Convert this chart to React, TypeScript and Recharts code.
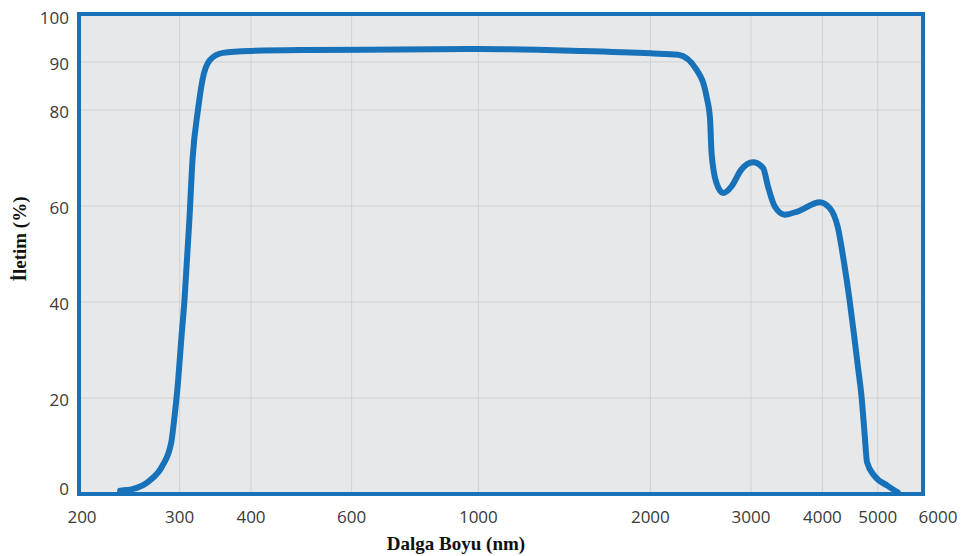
import React from "react";
import {
  LineChart,
  Line,
  XAxis,
  YAxis,
  CartesianGrid,
  ReferenceArea,
} from "recharts";

const wavelengths = [
  236, 248, 266, 280, 290, 294, 298, 302, 306, 312, 316, 323, 329, 339, 357,
  400, 500, 727, 1000, 1500, 2000, 2238, 2408, 2508, 2544, 2559, 2610, 2682,
  2774, 2886, 3026, 3150, 3212, 3302, 3437, 3626, 3957, 4118, 4258, 4374,
  4462, 4539, 4614, 4688, 4740, 4789, 4933, 5204, 5418,
];
const transmission = [
  0.7, 1.0, 2.8, 5.9, 10.7, 16.3, 23.2, 32.2, 40.5, 57, 69.6, 80, 86.3, 90.4,
  91.9, 92.3, 92.5, 92.6, 92.7, 92.3, 91.8, 91.5, 88.4, 82.8, 78, 71.1, 64.8,
  62.7, 64.1, 67.6, 69.1, 67.9, 64.1, 59.9, 58.2, 58.9, 60.8, 59.6, 55.5,
  47.5, 40.5, 33.6, 26.7, 19.8, 12.8, 6.6, 3.8, 1.7, 0.35,
];
const xTicks = [200, 300, 400, 600, 1000, 2000, 3000, 4000, 5000, 6000];
const yTicks = [0, 20, 40, 60, 80, 90, 100];
const xTitle = "Dalga Boyu (nm)";
const yTitle = "İletim (%)";

const data = wavelengths.map((w, i) => ({ w, t: transmission[i] }));

const BLUE = "#1872ba";
const TICK_FONT = "'Open Sans', 'Noto Sans', sans-serif";
const TITLE_FONT = "'Liberation Serif', 'DejaVu Serif', serif";

const XTick = (props: any) => {
  const { x, payload } = props;
  const v = payload.value;
  const dx = v === 6000 ? 15 : v === 200 ? 3 : 0;
  return (
    <text
      x={x + dx}
      y={523}
      textAnchor="middle"
      fontFamily={TICK_FONT}
      fontSize={17}
      fill="#3a3a3a"
    >
      {v}
    </text>
  );
};

const YTick = (props: any) => {
  const { y, payload } = props;
  const v = payload.value;
  const dy = v === 0 ? 1 : v === 100 ? 10 : 8;
  return (
    <text
      x={69}
      y={y + dy}
      textAnchor="end"
      fontFamily={TICK_FONT}
      fontSize={17}
      fill="#3a3a3a"
    >
      {v}
    </text>
  );
};

export default function App() {
  return (
    <div style={{ position: "absolute", left: 0, top: 0, background: "#fff" }}>
      <LineChart
        width={964}
        height={556}
        data={data}
        margin={{ top: 14, right: 41, bottom: 0, left: 0 }}
      >
        <CartesianGrid fill="#e7e8ea" stroke="#d0d1d3" strokeWidth={1} />
        <XAxis
          dataKey="w"
          type="number"
          scale="log"
          domain={[200, 6000]}
          ticks={xTicks}
          allowDataOverflow
          height={62}
          tickLine={false}
          axisLine={false}
          tick={<XTick />}
          interval={0}
          label={{
            content: () => (
              <text
                x={456}
                y={550}
                textAnchor="middle"
                fontFamily={TITLE_FONT}
                fontWeight="bold"
                fontSize={19}
                fill="#111"
              >
                {xTitle}
              </text>
            ),
          }}
        />
        <YAxis
          type="number"
          domain={[0, 100]}
          ticks={yTicks}
          width={79}
          tickLine={false}
          axisLine={false}
          tick={<YTick />}
          interval={0}
          label={{
            content: () => (
              <text
                x={0}
                y={0}
                transform="translate(26,239) rotate(-90)"
                textAnchor="middle"
                fontFamily={TITLE_FONT}
                fontWeight="bold"
                fontSize={19}
                fill="#111"
              >
                {yTitle}
              </text>
            ),
          }}
        />
        <ReferenceArea
          x1={200}
          x2={6000}
          y1={0}
          y2={100}
          fill="none"
          fillOpacity={0}
          stroke={BLUE}
          strokeWidth={4}
        />
        <Line
          dataKey="t"
          type="monotone"
          stroke={BLUE}
          strokeWidth={6}
          dot={false}
          strokeLinecap="round"
          isAnimationActive={false}
        />
      </LineChart>
    </div>
  );
}
